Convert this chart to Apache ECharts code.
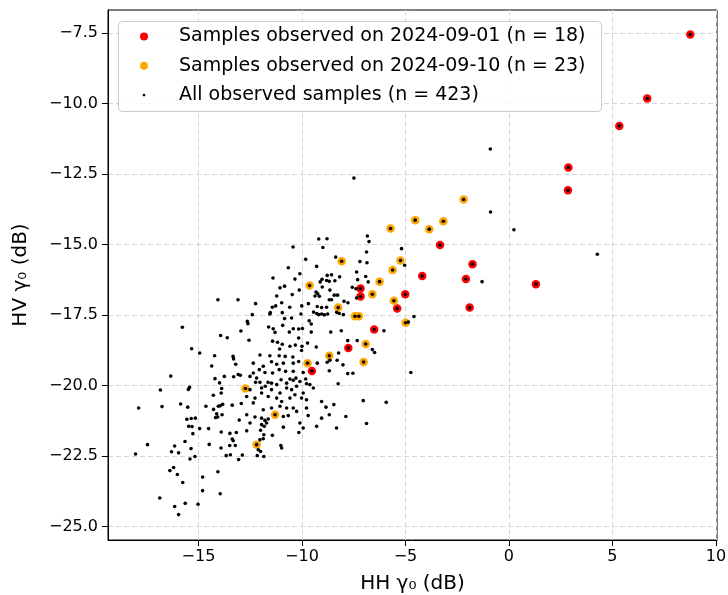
<!DOCTYPE html>
<html>
<head>
<meta charset="utf-8">
<script src="https://cdn.jsdelivr.net/npm/echarts@6/dist/echarts.min.js"></script>
<style>html,body{margin:0;padding:0;background:#fff}#c{width:728px;height:595px}</style>
</head>
<body>
<div id="c"></div>
<script>
// ---- data (HH gamma0 dB, HV gamma0 dB) ----
const xTicks = [-15, -10, -5, 0, 5, 10];
const yTicks = [-25, -22.5, -20, -17.5, -15, -12.5, -10, -7.5];

const redPoints = [[8.76,-7.55],[6.68,-9.82],[5.33,-10.79],[2.87,-12.26],[2.85,-13.07],[1.30,-16.40],[-1.76,-15.69],[-2.08,-16.22],[-1.90,-17.23],[-3.33,-15.01],[-4.19,-16.11],[-5.01,-16.76],[-5.40,-17.26],[-6.51,-18.01],[-7.17,-16.55],[-7.17,-16.84],[-7.76,-18.66],[-9.52,-19.48]];

const orangePoints = [[-8.08,-15.59],[-9.63,-16.45],[-8.25,-17.23],[-8.68,-18.94],[-9.73,-19.20],[-12.73,-20.10],[-11.30,-21.03],[-12.19,-22.09],[-5.72,-14.43],[-4.53,-14.13],[-3.85,-14.45],[-5.24,-15.56],[-5.62,-15.90],[-6.25,-16.31],[-6.60,-16.76],[-5.56,-16.99],[-7.44,-17.54],[-7.25,-17.54],[-4.99,-17.77],[-6.92,-18.52],[-7.02,-19.16],[-2.19,-13.40],[-3.17,-14.17]];

const otherPoints = [
[-15.78,-17.93],[-13.93,-18.22],[-13.61,-18.30],[-12.95,-18.06],[-15.33,-18.69],[-14.94,-18.84],[-14.22,-18.94],[-13.33,-18.96],[-13.30,-19.05],[-14.36,-19.30],[-13.20,-19.24],[-16.34,-19.66],[-13.75,-19.67],[-14.20,-19.75],[-13.30,-19.68],[-13.08,-19.60],[-12.98,-19.63],[-13.98,-19.90],[-15.49,-20.13],[-15.43,-20.06],[-16.84,-20.15],[-13.88,-20.10],[-13.90,-20.26],[-14.28,-20.34],[-17.89,-20.79],[-16.76,-20.74],[-15.86,-20.65],[-15.52,-20.76],[-14.64,-20.73],[-14.04,-20.73],[-13.95,-20.71],[-13.83,-20.66],[-13.37,-20.69],[-12.93,-20.63],[-14.27,-20.84],[-14.12,-21.00],[-13.86,-21.03],[-14.17,-21.13],[-14.07,-21.11],[-15.56,-21.19],[-15.35,-21.16],[-15.15,-21.15],[-13.03,-21.22],[-15.47,-21.44],[-15.31,-21.45],[-14.94,-21.52],[-14.51,-21.52],
[-13.90,-21.64],[-13.48,-21.69],[-13.17,-21.66],[-15.27,-21.70],[-13.37,-21.89],[-13.32,-21.95],[-15.65,-21.98],[-17.46,-22.09],[-16.15,-22.14],[-14.48,-22.08],[-13.49,-22.12],[-13.22,-22.12],[-13.91,-22.21],[-15.36,-22.23],[-16.30,-22.34],[-15.96,-22.38],[-18.04,-22.42],[-15.17,-22.51],[-15.41,-22.60],[-13.66,-22.48],[-13.46,-22.45],[-13.06,-22.62],[-12.88,-22.46],[-16.20,-22.90],[-16.38,-23.01],[-16.02,-23.15],[-14.06,-23.05],[-14.80,-23.24],[-15.76,-23.43],[-14.80,-23.72],[-13.95,-23.83],[-16.87,-23.98],[-15.64,-24.17],[-15.02,-24.20],[-16.15,-24.28],[-15.96,-24.57],
[-14.06,-16.95],[-13.09,-16.95],
[-9.19,-14.80],[-8.79,-14.79],[-10.43,-15.08],[-8.99,-15.10],[-9.82,-15.52],[-8.37,-15.44],[-9.29,-15.77],[-10.66,-15.82],[-11.40,-16.18],[-10.34,-16.22],[-10.10,-16.03],[-10.84,-16.47],[-11.06,-16.53],[-8.57,-16.07],[-8.78,-16.09],[-8.18,-16.14],[-9.03,-16.23],[-9.12,-16.32],[-8.68,-16.30],[-8.81,-16.27],[-8.41,-16.28],[-9.02,-16.50],[-10.47,-16.77],[-11.22,-16.82],[-10.13,-16.61],[-9.32,-16.68],[-9.24,-16.74],[-9.37,-16.82],[-9.16,-16.83],[-8.65,-16.61],[-8.44,-16.79],[-8.28,-16.79],[-8.57,-16.95],[-8.68,-16.95],[-7.97,-17.01],[-12.24,-17.09],[-10.98,-17.06],[-11.43,-17.22],[-11.27,-17.17],[-10.59,-17.22],[-10.01,-17.17],[-9.69,-17.09],[-9.26,-17.19],[-9.05,-17.23],[-8.81,-17.22],[-11.53,-17.41],[-12.40,-17.48],[-11.55,-17.46],[-10.95,-17.41],[-10.05,-17.46],[-9.44,-17.39],[-9.29,-17.44],[-9.19,-17.48],[-9.05,-17.46],[-8.92,-17.49],[-8.76,-17.46],[-8.32,-17.40],[-8.20,-17.44],[-8.00,-17.48],[-12.61,-17.80],[-12.64,-17.72],[-10.84,-17.62],[-10.50,-17.60],[-9.65,-17.70],[-9.55,-17.81],[-11.61,-17.92],[-11.39,-17.98],[-10.93,-17.86],[-10.42,-17.98],[-10.61,-18.10],[-10.16,-17.99],[-9.98,-17.97],[-11.30,-18.11],[-9.55,-18.10],[-8.61,-18.10],[-8.10,-18.05],
[-11.42,-18.42],[-11.18,-18.46],[-10.95,-18.53],[-10.16,-18.31],[-12.56,-18.39],[-10.58,-18.60],[-10.32,-18.56],[-9.73,-18.49],[-10.00,-18.60],[-11.08,-18.70],[-12.03,-18.91],[-11.55,-18.94],[-11.10,-18.94],[-10.81,-18.96],[-10.44,-18.98],[-10.02,-18.75],[-9.31,-18.63],[-8.65,-19.10],[-8.78,-19.17],[-8.30,-19.10],[-8.02,-19.26],[-8.23,-18.84],[-12.35,-19.20],[-11.87,-19.31],[-11.47,-19.15],[-11.22,-19.24],[-10.90,-19.20],[-10.42,-19.20],[-10.16,-19.14],[-9.26,-19.20],[-8.68,-19.47],[-12.35,-19.55],[-12.06,-19.43],[-11.79,-19.53],[-11.42,-19.55],[-11.10,-19.43],[-10.79,-19.49],[-10.42,-19.49],[-9.94,-19.53],[-12.51,-19.67],[-12.19,-19.73],[-12.03,-19.88],[-11.64,-19.88],[-11.77,-20.02],[-11.47,-19.91],[-11.22,-19.96],[-11.01,-19.79],[-10.58,-19.76],[-10.74,-19.91],[-10.29,-19.73],[-10.42,-19.81],[-10.10,-19.85],[-9.82,-19.76],[-9.78,-19.93],[-12.51,-20.14],[-12.24,-19.88],[-11.95,-20.08],[-11.47,-20.14],[-11.06,-20.26],[-10.74,-20.08],[-10.50,-20.14],[-10.26,-20.02],[-9.94,-20.26],[-9.62,-19.96],[-9.45,-20.08],[-8.25,-19.93],[-12.67,-20.38],[-12.27,-20.44],[-11.95,-20.26],[-11.63,-20.38],[-11.22,-20.44],[-10.98,-20.56],[-10.58,-20.44],[-10.34,-20.32],[-10.02,-20.44],[-9.78,-20.50],[-9.05,-20.56],[-12.35,-20.61],[-11.87,-20.85],[-11.47,-20.79],[-11.06,-20.73],[-10.74,-20.79],[-10.42,-20.79],[-9.78,-20.79],[-8.84,-20.76],[-8.46,-20.67],[-12.67,-21.03],[-12.27,-21.11],[-11.95,-21.15],[-11.79,-21.23],[-11.63,-21.18],[-10.90,-21.09],[-10.66,-21.06],[-10.26,-20.91],[-9.70,-21.06],[-9.05,-21.15],[-8.68,-21.03],[-7.88,-21.09],[-12.51,-21.32],[-11.95,-21.38],[-11.82,-21.44],[-11.71,-21.32],[-10.90,-21.47],[-10.10,-21.32],[-9.94,-21.50],[-9.29,-21.44],[-8.33,-21.50],
[-12.67,-21.60],[-12.00,-21.58],[-11.84,-21.74],[-11.87,-21.88],[-12.03,-21.92],[-11.43,-21.76],[-10.15,-21.66],[-12.11,-22.27],[-12.00,-22.33],[-11.02,-22.12],[-10.98,-22.21],[-12.16,-22.48],[-11.84,-22.51],
[-7.49,-12.64],[-6.84,-14.69],[-6.76,-14.89],[-5.19,-15.14],
[-6.88,-15.26],[-5.04,-15.73],[-7.20,-15.60],[-6.86,-15.64],[-7.36,-15.97],[-6.92,-16.13],[-7.31,-16.24],[-6.80,-16.32],[-7.57,-16.51],[-7.39,-16.56],[-7.36,-16.89],[-7.78,-17.06],[-4.59,-17.55],[-4.86,-17.74],[-6.04,-18.05],[-7.79,-18.40],[-7.33,-18.40],
[-6.60,-18.72],[-6.49,-18.82],[-7.79,-19.57],[-7.54,-19.56],[-4.74,-19.53],[-7.04,-20.53],[-5.93,-20.59],[-6.88,-21.34],
[-0.90,-11.61],[-0.89,-13.84],[0.24,-14.47],[-1.30,-16.31],
[4.27,-15.34]
];
const allPoints = otherPoints.concat(redPoints, orangePoints);

const nameRed = 'Samples observed on 2024-09-01 (n = 18)';
const nameOrange = 'Samples observed on 2024-09-10 (n = 23)';
const nameAll = 'All observed samples (n = 423)';

const FONT = 'DejaVu Sans';
const fmt = (v, d) => (v < 0 ? '\u2212' : '') + Math.abs(v).toFixed(d);

const chart = echarts.init(document.getElementById('c'), null, {renderer: 'canvas'});
chart.setOption({
  animation: false,
  backgroundColor: '#fff',
  textStyle: {fontFamily: FONT, color: '#000'},
  grid: {left: 108, right: 11, top: 10, bottom: 55, show: true, borderColor: '#000', borderWidth: 1, backgroundColor: 'transparent', containLabel: false, outerBoundsMode: 'none'},
  xAxis: {
    type: 'value', min: -19.37, max: 10.05,
    name: 'HH γ₀ (dB)', nameLocation: 'middle', nameGap: 34,
    nameTextStyle: {fontSize: 20, color: '#000', fontFamily: FONT},
    axisLine: {show: true, onZero: false, lineStyle: {color: '#000', width: 1}},
    axisTick: {show: true, inside: false, length: 6, lineStyle: {color: '#000'}, customValues: xTicks},
    axisLabel: {customValues: xTicks, fontSize: 16, color: '#000', fontFamily: FONT, margin: 9, formatter: v => fmt(v, 0)},
    splitLine: {show: true, lineStyle: {color: '#d6d6d6', width: 1, type: [5, 3]}}
  },
  yAxis: {
    type: 'value', min: -25.47, max: -6.68,
    name: 'HV γ₀ (dB)', nameLocation: 'middle', nameGap: 77, nameRotate: 90,
    nameTextStyle: {fontSize: 20, color: '#000', fontFamily: FONT},
    axisLine: {show: true, onZero: false, lineStyle: {color: '#000', width: 1}},
    axisTick: {show: true, inside: false, length: 6, lineStyle: {color: '#000'}, customValues: yTicks},
    axisLabel: {customValues: yTicks, fontSize: 16, color: '#000', fontFamily: FONT, margin: 10, formatter: v => fmt(v, 1)},
    splitLine: {show: true, lineStyle: {color: '#d6d6d6', width: 1, type: [5, 3]}}
  },
  graphic: [{
    type: 'rect', z: 6, silent: true,
    shape: {x: 118.5, y: 21.5, width: 483, height: 90, r: 4},
    style: {fill: 'rgba(255,255,255,0.8)', stroke: '#cccccc', lineWidth: 1}
  }],
  legend: {
    z: 10, orient: 'vertical', left: 140, top: 27, padding: 0,
    itemWidth: 60, itemHeight: 8, itemGap: 10.3,
    textStyle: {fontSize: 19, color: '#000', fontFamily: FONT},
    data: [
      {name: nameRed, icon: 'circle'},
      {name: nameOrange, icon: 'circle'},
      {name: nameAll, icon: 'path://M0,0M10,10M5,3.3A1.7,1.7,0,1,1,5,6.7A1.7,1.7,0,1,1,5,3.3Z'}
    ]
  },
  series: [
    {name: nameRed, type: 'scatter', data: redPoints, symbol: 'circle', symbolSize: 8.5, itemStyle: {color: '#ff0000', opacity: 1}, z: 2, emphasis: {disabled: true}},
    {name: nameOrange, type: 'scatter', data: orangePoints, symbol: 'circle', symbolSize: 8.5, itemStyle: {color: '#ffa500', opacity: 1}, z: 3, emphasis: {disabled: true}},
    {name: nameAll, type: 'scatter', data: allPoints, symbol: 'circle', symbolSize: 3.6, itemStyle: {color: '#000000', opacity: 1}, z: 4, emphasis: {disabled: true}}
  ]
});
</script>
</body>
</html>
